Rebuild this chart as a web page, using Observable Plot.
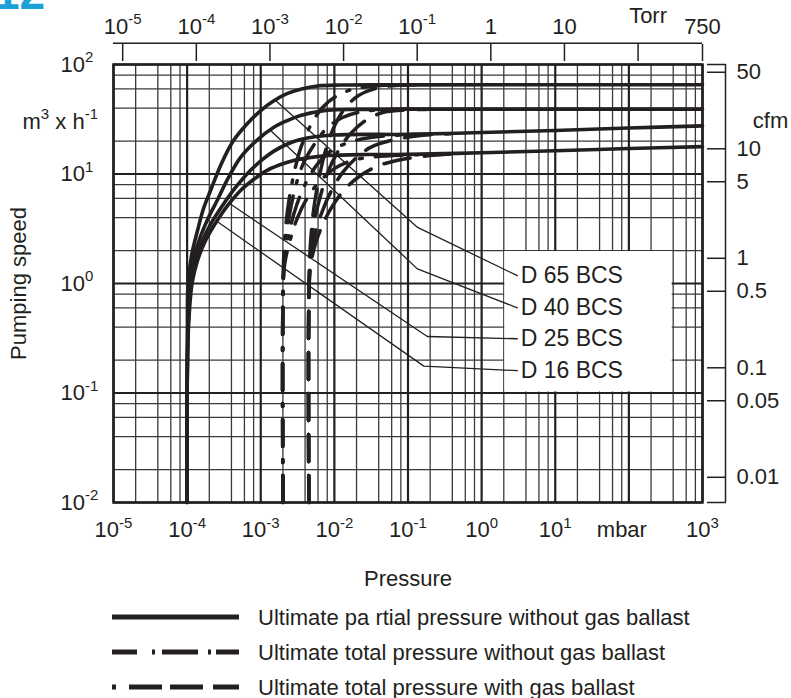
<!DOCTYPE html>
<html><head><meta charset="utf-8">
<script src="https://cdn.jsdelivr.net/npm/d3@7"></script>
<script src="https://cdn.jsdelivr.net/npm/@observablehq/plot@0.6"></script>
<style>
html,body{margin:0;padding:0;background:#fff;}
#wrap{position:relative;width:791px;height:698px;overflow:hidden;font-family:"Liberation Sans",Arial,sans-serif;}
#chart{position:absolute;left:0;top:0;}
#legend{position:absolute;left:0;top:600px;}
#badge{position:absolute;left:0;top:0;}
</style></head><body>
<div id="wrap"><div id="chart"></div><svg id="legend" width="791" height="98"></svg><svg id="badge" width="60" height="20"><text x="-6" y="9" font-size="46" font-weight="bold" fill="#1ba0d8" font-family="Liberation Sans, Arial, sans-serif">12</text></svg></div>
<script>
const ink = "#231f20";
const MBAR_PER_TORR = 1.33322;
const M3H_PER_CFM = 1 / 0.588578;

// ---- tick labels ----
const mbarTicks = [1e-5, 1e-4, 1e-3, 1e-2, 1e-1, 1, 10, 100, 1000];
const mbarTickLabels = ["10^-5", "10^-4", "10^-3", "10^-2", "10^-1", "10^0", "10^1", "mbar", "10^3"];
const torrTicks = [1e-5, 1e-4, 1e-3, 1e-2, 1e-1, 1, 10, 100, 750];
const torrTickLabels = ["10^-5", "10^-4", "10^-3", "10^-2", "10^-1", "1", "10", "", "750"];
const speedTicks = [0.01, 0.1, 1, 10, 100];
const speedTickLabels = ["10^-2", "10^-1", "10^0", "10^1", "10^2"];
const cfmTicks = [50, 10, 5, 1, 0.5, 0.1, 0.05, 0.01];
const cfmTickLabels = ["50", "10", "5", "1", "0.5", "0.1", "0.05", "0.01"];
const gridDecadesX = [-5, -4, -3, -2, -1, 0, 1, 2, 3];
const gridDecadesY = [-2, -1, 0, 1, 2];
const gridSteps = [2, 4, 6, 8];

// ---- pumps ----
const pumps = ["D 65 BCS", "D 40 BCS", "D 25 BCS", "D 16 BCS"];
const labelPressure = 3.39;           // mbar, where label text starts
const labelSpeed = [1.18, 0.60, 0.313, 0.160];

// ultimate partial pressure without gas ballast [mbar, m3/h]
const d65Partial = [[1e-4,0.01],[1e-4,0.1],[1.009e-4,0.37],[1.029e-4,1.0],[1.148e-4,1.8],[1.385e-4,3.05],[1.67e-4,4.84],[2.08e-4,7.07],[2.93e-4,12.5],[4.27e-4,20.2],[6.41e-4,28.3],[1e-3,38],[1.49e-3,46.4],[2.31e-3,54.4],[3.58e-3,59.8],[5.91e-3,63.6],[1.21e-2,64.9],[0.1,65.2],[1000,65.4]];
const d40Partial = [[1e-4,0.01],[1e-4,0.1],[1.019e-4,0.37],[1.061e-4,1.0],[1.222e-4,1.69],[1.52e-4,2.69],[1.95e-4,4.0],[2.56e-4,5.73],[3.65e-4,9.3],[5.32e-4,14.2],[8.77e-4,20.2],[1.49e-3,26.6],[2.31e-3,30.8],[3.47e-3,34.2],[8.08e-3,38.2],[2.27e-2,38.9],[0.1,39.1],[1000,39.1]];
const d25Partial = [[1e-4,0.01],[1e-4,0.1],[1.029e-4,0.37],[1.112e-4,1.0],[1.30e-4,1.62],[1.62e-4,2.47],[2.15e-4,3.61],[3.03e-4,5.16],[4.55e-4,7.53],[7.27e-4,10.8],[1.06e-3,13.6],[1.49e-3,16.1],[2.31e-3,18.8],[3.47e-3,20.7],[9.75e-3,22.7],[0.1,23.0],[1,23.9],[10,25.0],[100,26.3],[1000,27.5]];
const d16Partial = [[1e-4,0.01],[1e-4,0.1],[1.038e-4,0.37],[1.166e-4,1.0],[1.385e-4,1.62],[1.78e-4,2.47],[2.56e-4,3.76],[3.65e-4,5.27],[5.32e-4,7.07],[7.98e-4,8.9],[1.22e-3,10.8],[1.86e-3,12.2],[2.79e-3,13.3],[4.75e-3,14.15],[8.08e-3,14.75],[2.83e-2,15.07],[0.1,15.1],[1,15.65],[10,16.3],[100,17.1],[1000,17.8]];

// ultimate total pressure without gas ballast
const d65Total = [[2e-3,0.01],[2e-3,0.7],[2.07e-3,2.0],[2.31e-3,4.64],[2.79e-3,9.7],[3.47e-3,17.1],[4.74e-3,27.7],[6.9e-3,40.5],[1.1e-2,52.1],[1.94e-2,60.4],[4.24e-2,64.3],[0.1,65.2]];
const d40Total = [[2e-3,0.01],[2e-3,0.7],[2.1e-3,1.8],[2.38e-3,3.76],[2.88e-3,7.07],[3.69e-3,12.0],[5.21e-3,18.2],[7.82e-3,26.0],[1.29e-2,32.8],[2.41e-2,37.2],[5.79e-2,38.9],[0.148,39.1]];
const d25Total = [[2e-3,0.01],[2e-3,0.7],[2.1e-3,1.62],[2.46e-3,3.05],[3.06e-3,5.16],[4.06e-3,8.19],[5.72e-3,12.0],[8.87e-3,16.1],[1.56e-2,19.4],[3.1e-2,21.5],[7.92e-2,22.7],[0.203,23.0]];
const d16Total = [[2e-3,0.01],[2e-3,0.7],[2.1e-3,1.46],[2.54e-3,2.58],[3.16e-3,4.0],[4.32e-3,6.1],[6.29e-3,8.54],[1.0e-2,11.2],[1.76e-2,13.3],[3.62e-2,14.4],[9.27e-2,14.9],[0.277,15.1]];

// ultimate total pressure with gas ballast
const d65Ballast = [[4.5e-3,0.01],[4.5e-3,0.7],[4.67e-3,2.0],[5.21e-3,4.64],[6.09e-3,8.7],[7.59e-3,16.4],[1.01e-2,27.7],[1.42e-2,40.5],[2.13e-2,52.1],[3.63e-2,60.4],[6.78e-2,64.3],[0.148,65.2]];
const d40Ballast = [[4.5e-3,0.01],[4.5e-3,0.7],[4.75e-3,1.8],[5.38e-3,3.76],[6.49e-3,6.36],[8.33e-3,10.8],[1.14e-2,16.4],[1.66e-2,23.4],[2.65e-2,30.8],[4.51e-2,36.4],[9.27e-2,38.4],[0.203,39.1]];
const d25Ballast = [[4.5e-3,0.01],[4.5e-3,0.7],[4.75e-3,1.62],[5.55e-3,2.92],[6.91e-3,4.64],[9.15e-3,7.07],[1.29e-2,10.3],[1.94e-2,13.9],[3.1e-2,17.5],[5.8e-2,20.2],[0.148,22.5],[0.379,23.3]];
const d16Ballast = [[4.5e-3,0.01],[4.5e-3,0.7],[4.75e-3,1.46],[5.72e-3,2.47],[7.35e-3,3.76],[1.01e-2,5.49],[1.46e-2,7.53],[2.27e-2,9.69],[3.74e-2,11.7],[7.0e-2,13.3],[0.148,14.4],[0.379,15.2]];

// leader lines from curves to labels
const leaderD65 = [[1.59e-3,46.9],[0.135,3.25],[3.05,1.18]];
const leaderD40 = [[1.36e-3,25],[0.134,1.36],[3.05,0.60]];
const leaderD25 = [[3.77e-4,5.38],[0.183,0.328],[3.05,0.313]];
const leaderD16 = [[2.56e-4,3.68],[0.164,0.176],[3.05,0.160]];

// label box (white panel behind the pump names)
const labelBox = [{p1: 2, p2: 400, s1: 0.1, s2: 2}];

const legendItems = ["Ultimate pa rtial pressure without gas ballast", "Ultimate total pressure without gas ballast", "Ultimate total pressure with gas ballast"];

// ---- tables ----
const toRows = (pump, pts) => pts.map(([p, S]) => ({pump, p, S}));
const partialRows = [d65Partial, d40Partial, d25Partial, d16Partial].flatMap((s, i) => toRows(pumps[i], s));
const totalRows = [d65Total, d40Total, d25Total, d16Total].flatMap((s, i) => toRows(pumps[i], s));
const ballastRows = [d65Ballast, d40Ballast, d25Ballast, d16Ballast].flatMap((s, i) => toRows(pumps[i], s));
const leaderRows = [leaderD65, leaderD40, leaderD25, leaderD16].flatMap((s, i) => toRows(pumps[i], s));

const majorX = gridDecadesX.map(d => 10 ** d);
const minorX = gridDecadesX.slice(0, -1).flatMap(d => gridSteps.map(m => m * 10 ** d));
const majorY = gridDecadesY.map(d => 10 ** d);
const minorY = gridDecadesY.slice(0, -1).flatMap(d => gridSteps.map(m => m * 10 ** d));

const mbarRows = mbarTicks.map((v, i) => ({v, label: mbarTickLabels[i]}));
const torrRows = torrTicks.map((t, i) => ({v: t * MBAR_PER_TORR, label: torrTickLabels[i]}));
const speedRows = speedTicks.map((v, i) => ({v, label: speedTickLabels[i]}));
const cfmRows = cfmTicks.map((c, i) => ({v: c * M3H_PER_CFM, label: cfmTickLabels[i]}));
const cfmAxisTicks = [100, ...cfmRows.map(d => d.v), 0.01];
const noLabel = () => "";

const chart = Plot.plot({
  width: 791, height: 600,
  marginLeft: 113, marginRight: 89, marginTop: 64, marginBottom: 98,
  x: {type: "log", domain: [1e-5, 1e3], axis: null},
  y: {type: "log", domain: [1e-2, 1e2], axis: null},
  style: {fontFamily: '"Liberation Sans", Arial, sans-serif', fontSize: "22px", color: ink, background: "white", overflow: "visible"},
  marks: [
    Plot.ruleX(minorX, {stroke: "#3a3a3a", strokeWidth: 1.3}),
    Plot.ruleY(minorY, {stroke: "#3a3a3a", strokeWidth: 1.3}),
    Plot.ruleX(majorX, {stroke: ink, strokeWidth: 2.2}),
    Plot.ruleY(majorY, {stroke: ink, strokeWidth: 2.2}),
    Plot.rect(labelBox, {x1: "p1", x2: "p2", y1: "s1", y2: "s2", fill: "white", inset: 1}),
    Plot.line(leaderRows, {x: "p", y: "S", z: "pump", stroke: ink, strokeWidth: 1.3}),
    Plot.line(totalRows, {x: "p", y: "S", z: "pump", stroke: ink, strokeWidth: 3.5, curve: "catmull-rom", strokeDasharray: "27,13,3,13"}),
    Plot.line(ballastRows, {x: "p", y: "S", z: "pump", stroke: ink, strokeWidth: 3.5, curve: "catmull-rom", strokeDasharray: "27,14"}),
    Plot.line(partialRows, {x: "p", y: "S", z: "pump", stroke: ink, strokeWidth: 3.6, curve: "catmull-rom"}),
    Plot.frame({stroke: ink, strokeWidth: 2.5}),
    // bottom mbar axis labels
    Plot.text(mbarRows, {x: "v", text: "label", frameAnchor: "bottom", lineAnchor: "top", dy: 19, fontSize: 22, ariaLabel: "x tick label"}),
    // top Torr axis
    Plot.ruleY([100], {dy: -21.3, stroke: ink, strokeWidth: 1.5}),
    Plot.axisX(torrRows.map(d => d.v), {anchor: "top", tickSize: 17, tickPadding: 10, dy: -4, tickFormat: noLabel, label: null, stroke: ink, strokeWidth: 1.5}),
    Plot.text(torrRows, {x: "v", text: "label", frameAnchor: "top", lineAnchor: "bottom", dy: -31, fontSize: 22, ariaLabel: "x tick label"}),
    Plot.text(["Torr"], {x: () => 100 * MBAR_PER_TORR, frameAnchor: "top", lineAnchor: "middle", dx: 10, dy: -49, fontSize: 22}),
    // left m3/h axis
    Plot.text(speedRows, {y: "v", text: "label", frameAnchor: "left", textAnchor: "start", lineAnchor: "middle", dx: -53, fontSize: 22}),
    Plot.text(["m^3 x h^-1"], {frameAnchor: "top-left", dx: -91, dy: 57, textAnchor: "start", lineAnchor: "middle", fontSize: 22}),
    Plot.text(["Pumping speed"], {frameAnchor: "left", dx: -95, rotate: -90, textAnchor: "middle", lineAnchor: "middle", fontSize: 22}),
    // right cfm axis
    Plot.ruleX([1000], {dx: 23, stroke: ink, strokeWidth: 1.5}),
    Plot.axisY(cfmAxisTicks, {anchor: "right", tickSize: 19, tickPadding: 10, dx: 4, tickFormat: noLabel, label: null, stroke: ink, strokeWidth: 1.5}),
    Plot.text(cfmRows, {y: "v", text: "label", frameAnchor: "right", textAnchor: "start", lineAnchor: "middle", dx: 34, fontSize: 22}),
    Plot.text(["cfm"], {frameAnchor: "top-right", textAnchor: "middle", lineAnchor: "middle", dx: 68, dy: 56, fontSize: 22}),
    Plot.text(["Pressure"], {frameAnchor: "bottom", lineAnchor: "middle", dy: 76, fontSize: 22}),
    // pump labels
    Plot.text(pumps, {x: () => labelPressure, y: (d, i) => labelSpeed[i], text: d => d, textAnchor: "start", lineAnchor: "middle", fontSize: 23})
  ]
});
document.getElementById("chart").appendChild(chart);

// ---- superscripts ----
const NS = "http://www.w3.org/2000/svg";
function superscript(el) {
  const s = el.textContent;
  if (!s.includes("^")) return null;
  const fs = parseFloat(getComputedStyle(el).fontSize) || 22;
  const parts = s.split(/(\^-?\d+)/).filter(Boolean);
  el.textContent = "";
  let raised = false, first = null;
  for (const part of parts) {
    const t = document.createElementNS(NS, "tspan");
    if (part.startsWith("^")) {
      t.textContent = part.slice(1);
      t.setAttribute("font-size", (fs * 0.68).toFixed(1));
      t.setAttribute("dy", (-fs * 0.42).toFixed(1));
      raised = true;
    } else {
      t.textContent = part;
      if (raised) { t.setAttribute("dy", (fs * 0.42).toFixed(1)); raised = false; }
    }
    el.appendChild(t);
    if (!first) first = t;
  }
  return first;
}
chart.querySelectorAll("text").forEach(el => {
  const isXTick = !!el.closest('[aria-label="x tick label"]');
  if (el.textContent === "mbar") el.setAttribute("dx", "-7");
  const first = superscript(el);
  if (first && isXTick) {
    el.setAttribute("text-anchor", "start");
    first.setAttribute("dx", (-first.getComputedTextLength() / 2).toFixed(1));
  }
});

// ---- legend ----
const lg = d3.select("#legend");
const dashes = [null, "25,15,3,7,36,10,3,5,23,60", "4,13,33,8,33,10,26,60"];
legendItems.forEach((label, i) => {
  const y = 17 + 35 * i;
  lg.append("line").attr("x1", 112).attr("x2", 239).attr("y1", y).attr("y2", y)
    .attr("stroke", ink).attr("stroke-width", 5).attr("stroke-dasharray", dashes[i]);
  lg.append("text").attr("x", 258).attr("y", y).attr("dominant-baseline", "central")
    .attr("font-size", 22).attr("fill", ink).attr("font-family", '"Liberation Sans", Arial, sans-serif').text(label);
});
</script></body></html>
